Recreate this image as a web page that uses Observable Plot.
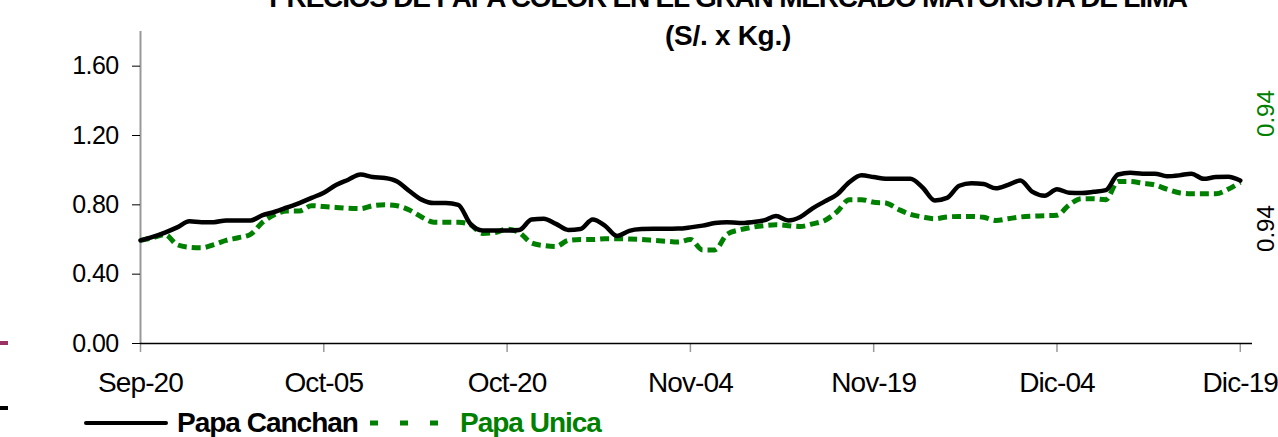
<!DOCTYPE html>
<html><head><meta charset="utf-8">
<script src="https://cdn.jsdelivr.net/npm/d3@7"></script>
<script src="https://cdn.jsdelivr.net/npm/@observablehq/plot@0.6"></script>
<style>
body{margin:0;background:#fff;}
#wrap{position:relative;width:1278px;height:437px;overflow:hidden;font-family:"Liberation Sans",Arial,sans-serif;color:#000;}
.t{position:absolute;left:728px;transform:translateX(-50%);white-space:nowrap;font-weight:bold;font-size:28px;line-height:28px;}
#t1{top:-16px;letter-spacing:-1.2px;}
#t2{top:22px;letter-spacing:-0.3px;}
#chart{position:absolute;left:0;top:0;}
#legend{position:absolute;top:409px;left:84px;display:flex;align-items:center;font-weight:bold;font-size:28px;line-height:28px;letter-spacing:-1px;white-space:nowrap;}
#legend svg{display:block;}
.mk{position:absolute;left:0;width:8px;height:4px;}
#chart g[aria-label="x-axis tick label"] text{letter-spacing:-0.9px;}
#chart g[aria-label="y-axis tick label"] text{letter-spacing:-0.6px;}
</style></head>
<body>
<div id="wrap">
  <div class="t" id="t1">PRECIOS DE PAPA COLOR EN EL GRAN MERCADO MAYORISTA DE LIMA</div>
  <div class="t" id="t2">(S/. x Kg.)</div>
  <div id="chart"></div>
  <div class="mk" style="top:341px;background:#993366"></div>
  <div class="mk" style="top:406px;background:#000"></div>
  <div id="legend"></div>
</div>
<script>
const fechas = [
"2009-09-20","2009-09-21","2009-09-22","2009-09-23","2009-09-24","2009-09-25","2009-09-26","2009-09-27","2009-09-28","2009-09-29","2009-09-30",
"2009-10-01","2009-10-02","2009-10-03","2009-10-04","2009-10-05","2009-10-06","2009-10-07","2009-10-08","2009-10-09","2009-10-10",
"2009-10-11","2009-10-12","2009-10-13","2009-10-14","2009-10-15","2009-10-16","2009-10-17","2009-10-18","2009-10-19","2009-10-20",
"2009-10-21","2009-10-22","2009-10-23","2009-10-24","2009-10-25","2009-10-26","2009-10-27","2009-10-28","2009-10-29","2009-10-30","2009-10-31",
"2009-11-01","2009-11-02","2009-11-03","2009-11-04","2009-11-05","2009-11-06","2009-11-07","2009-11-08","2009-11-09","2009-11-10",
"2009-11-11","2009-11-12","2009-11-13","2009-11-14","2009-11-15","2009-11-16","2009-11-17","2009-11-18","2009-11-19","2009-11-20",
"2009-11-21","2009-11-22","2009-11-23","2009-11-24","2009-11-25","2009-11-26","2009-11-27","2009-11-28","2009-11-29","2009-11-30",
"2009-12-01","2009-12-02","2009-12-03","2009-12-04","2009-12-05","2009-12-06","2009-12-07","2009-12-08","2009-12-09","2009-12-10",
"2009-12-11","2009-12-12","2009-12-13","2009-12-14","2009-12-15","2009-12-16","2009-12-17","2009-12-18","2009-12-19"];

const papaCanchan = [0.595,0.615,0.64,0.67,0.705,0.70,0.70,0.71,0.71,0.71,
 0.74,0.76,0.785,0.81,0.84,0.87,0.915,0.945,0.975,0.96,
 0.955,0.935,0.88,0.83,0.81,0.81,0.80,0.69,0.652,0.652,
 0.652,0.655,0.715,0.72,0.69,0.655,0.66,0.715,0.68,0.62,
 0.65,0.66,0.662,0.662,0.663,0.67,0.68,0.695,0.70,0.695,
 0.70,0.71,0.735,0.71,0.73,0.78,0.82,0.86,0.93,0.97,
 0.96,0.95,0.95,0.95,0.90,0.825,0.84,0.91,0.925,0.92,
 0.895,0.915,0.94,0.875,0.853,0.89,0.87,0.868,0.875,0.885,
 0.975,0.985,0.98,0.98,0.965,0.97,0.98,0.95,0.96,0.962,
 0.94];

const papaUnica = [0.595,0.61,0.628,0.57,0.555,0.552,0.57,0.595,0.61,0.63,
 0.70,0.745,0.765,0.765,0.795,0.79,0.785,0.78,0.778,0.795,
 0.80,0.795,0.77,0.73,0.70,0.70,0.70,0.685,0.635,0.64,
 0.66,0.64,0.58,0.565,0.56,0.595,0.60,0.60,0.605,0.605,
 0.603,0.60,0.595,0.59,0.585,0.60,0.54,0.54,0.63,0.655,
 0.67,0.68,0.685,0.68,0.675,0.69,0.71,0.76,0.83,0.83,
 0.815,0.81,0.775,0.745,0.73,0.72,0.73,0.733,0.733,0.728,
 0.71,0.72,0.73,0.735,0.737,0.74,0.80,0.835,0.835,0.83,
 0.935,0.935,0.925,0.915,0.89,0.87,0.864,0.864,0.864,0.89,
 0.93];

const xTicks = ["2009-09-20","2009-10-05","2009-10-20","2009-11-04","2009-11-19","2009-12-04","2009-12-19"];
const meses = ["Ene","Feb","Mar","Abr","May","Jun","Jul","Ago","Sep","Oct","Nov","Dic"];
const yTicks = [0, 0.4, 0.8, 1.2, 1.6];
const etiquetas = ["0.94", "0.94"]; // green (upper), black (lower)
const series = ["Papa Canchan", "Papa Unica"];
const colores = ["#000000", "#008000"];

const parse = d3.utcParse("%Y-%m-%d");
const canchanData = fechas.map((f, i) => ({date: parse(f), v: papaCanchan[i]}));
const unicaData = fechas.map((f, i) => ({date: parse(f), v: papaUnica[i]}));
const last = canchanData[canchanData.length - 1];

const chart = Plot.plot({
  width: 1278, height: 405,
  marginLeft: 140, marginRight: 26, marginTop: 31, marginBottom: 62,
  style: {fontFamily: "'Liberation Sans', Arial, sans-serif", background: "transparent", overflow: "visible", color: "#000"},
  x: {type: "utc", domain: [parse("2009-09-20"), parse("2009-12-20")], axis: null},
  y: {domain: [0, 1.8], axis: null},
  marks: [
    Plot.ruleX([parse(xTicks[0])], {y1: 0, y2: 1.8, stroke: "#999", strokeWidth: 2}),
    Plot.axisX({ticks: xTicks.map(parse), tickFormat: d => meses[d.getUTCMonth()] + "-" + String(d.getUTCDate()).padStart(2, "0"),
      tickSize: 9, tickPadding: 20, stroke: "#999", strokeWidth: 1.5, fill: "#000", fontSize: 28, label: null}),
    Plot.axisY({ticks: yTicks, tickFormat: d => d.toFixed(2), tickSize: 8, tickPadding: 14, stroke: "#000", fill: "#000", fontSize: 25, label: null}),
    Plot.ruleY([0], {stroke: "#000", strokeWidth: 1.5}),
    Plot.line(unicaData, {x: "date", y: "v", stroke: colores[1], strokeWidth: 5, strokeDasharray: "9,5", strokeLinecap: "butt", curve: "monotone-x"}),
    Plot.line(canchanData, {x: "date", y: "v", stroke: colores[0], strokeWidth: 4.5, curve: "monotone-x"}),
    Plot.text([last], {x: "date", y: "v", text: () => etiquetas[0], rotate: -90, dx: 26, dy: -67, fill: colores[1], fontSize: 24}),
    Plot.text([last], {x: "date", y: "v", text: () => etiquetas[1], rotate: -90, dx: 26, dy: 48, fill: colores[0], fontSize: 24})
  ]
});
document.getElementById("chart").appendChild(chart);

const legend = document.getElementById("legend");
legend.innerHTML =
  `<svg width="84" height="10"><line x1="2" y1="5" x2="82" y2="5" stroke="${colores[0]}" stroke-width="4" stroke-linecap="round"/></svg>` +
  `<span style="margin-left:9px;color:${colores[0]}">${series[0]}</span>` +
  `<svg width="90" height="10" style="margin-left:12px"><line x1="0" y1="5" x2="76" y2="5" stroke="${colores[1]}" stroke-width="5" stroke-dasharray="8,22"/></svg>` +
  `<span style="color:${colores[1]}">${series[1]}</span>`;
</script>
</body></html>
